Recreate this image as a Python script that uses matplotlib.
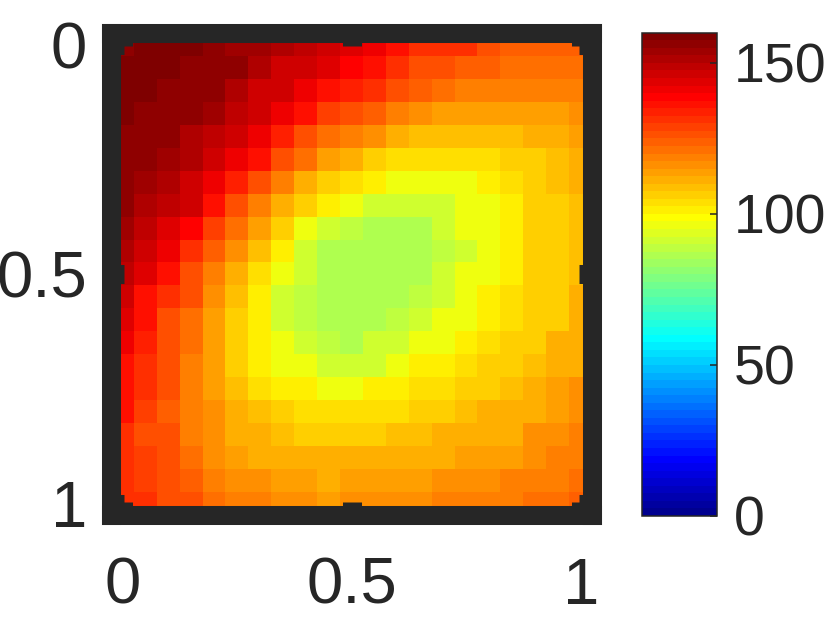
# heatmap on the unit square with a jet colour bar, MATLAB look

import numpy as np
import matplotlib
matplotlib.use('Agg')
import matplotlib.pyplot as plt
from matplotlib.colors import ListedColormap

# grid of values, 21 x 21, row 0 at y = 0 (top)
row00 = [157, 158, 158, 159, 156, 154, 153, 152, 148, 145, 144, 140, 137, 132, 131, 131, 127, 124, 124, 124, 124]
row01 = [159, 159, 160, 157, 155, 155, 152, 147, 145, 143, 139, 137, 131, 127, 125, 123, 123, 120, 120, 120, 120]
row02 = [159, 159, 157, 157, 155, 152, 147, 145, 140, 136, 133, 130, 126, 123, 120, 119, 119, 119, 119, 119, 119]
row03 = [158, 157, 157, 155, 153, 148, 146, 140, 135, 129, 126, 124, 118, 116, 113, 113, 113, 113, 113, 113, 116]
row04 = [157, 157, 155, 152, 148, 146, 140, 134, 126, 120, 119, 117, 110, 108, 108, 108, 108, 108, 110, 110, 113]
row05 = [157, 155, 153, 151, 147, 140, 135, 126, 121, 113, 112, 107, 103, 103, 103, 103, 103, 105, 107, 109, 111]
row06 = [156, 153, 151, 146, 140, 134, 126, 119, 112, 107, 104, 100, 97, 95, 97, 97, 100, 103, 105, 108, 111]
row07 = [156, 150, 148, 145, 135, 126, 119, 112, 106, 100, 95, 91, 91, 91, 92, 95, 97, 100, 105, 105, 108]
row08 = [153, 148, 144, 138, 129, 121, 114, 106, 97, 92, 89, 85, 85, 87, 91, 95, 97, 100, 105, 105, 108]
row09 = [151, 146, 140, 132, 123, 116, 108, 100, 92, 87, 85, 85, 85, 87, 89, 92, 95, 100, 105, 105, 108]
row10 = [148, 143, 135, 127, 119, 112, 104, 95, 90, 85, 85, 85, 85, 87, 90, 95, 97, 100, 105, 107, 108]
row11 = [146, 137, 132, 125, 116, 108, 100, 92, 89, 85, 85, 85, 87, 89, 91, 95, 100, 103, 105, 107, 110]
row12 = [143, 135, 127, 120, 113, 105, 100, 92, 89, 87, 85, 86, 89, 91, 95, 95, 100, 103, 105, 107, 110]
row13 = [140, 134, 127, 120, 113, 105, 100, 95, 92, 89, 87, 90, 90, 95, 97, 100, 103, 105, 107, 110, 111]
row14 = [137, 130, 125, 119, 113, 105, 100, 97, 95, 92, 92, 92, 95, 100, 100, 103, 105, 107, 109, 111, 112]
row15 = [135, 130, 125, 119, 113, 108, 103, 100, 100, 97, 95, 100, 100, 103, 103, 105, 107, 109, 111, 113, 115]
row16 = [135, 129, 123, 119, 115, 110, 108, 105, 103, 103, 103, 103, 103, 105, 105, 108, 110, 110, 112, 114, 115]
row17 = [132, 127, 125, 119, 115, 111, 110, 108, 107, 105, 105, 105, 108, 108, 110, 111, 112, 112, 115, 116, 118]
row18 = [132, 129, 125, 120, 116, 113, 112, 111, 111, 111, 111, 111, 111, 111, 111, 113, 113, 113, 115, 118, 119]
row19 = [132, 129, 125, 123, 119, 116, 115, 113, 113, 112, 113, 113, 113, 113, 116, 116, 116, 118, 118, 119, 121]
row20 = [132, 130, 127, 126, 121, 119, 118, 116, 115, 114, 115, 116, 116, 116, 118, 119, 119, 119, 120, 121, 123]

axis_ticks = [0, 0.5, 1]
axis_ticklabels = ['0', '0.5', '1']
cbar_ticks = [0, 50, 100, 150]
clim = (0, 160)

field = np.array([row00, row01, row02, row03, row04, row05, row06, row07,
                  row08, row09, row10, row11, row12, row13, row14, row15,
                  row16, row17, row18, row19, row20], dtype=float)


def matlab_jet(n=64):
    # same construction as MATLAB's jet(n)
    m = int(np.ceil(n / 4))
    u = np.concatenate([np.arange(1, m + 1) / m, np.ones(m - 1), np.arange(m, 0, -1) / m])
    g = int(np.ceil(m / 2)) - (1 if n % 4 == 1 else 0) + np.arange(1, len(u) + 1)
    J = np.zeros((n, 3))
    for col, idx in ((0, g + m), (1, g), (2, g - m)):
        ok = (idx >= 1) & (idx <= n)
        J[idx[ok] - 1, col] = u[ok]
    return ListedColormap(J)


dark = '#262626'
plt.rcParams['font.family'] = ['Liberation Sans', 'DejaVu Sans']

fig = plt.figure(figsize=(8.3, 6.25), dpi=100)
ax = fig.add_axes([0.1343, 0.176, 0.5795, 0.7706])

# cells centred on 0..1 in steps of 0.05, so the image reaches half a cell past
n = field.shape[0]
half = 0.5 / (n - 1)
im = ax.imshow(field, cmap=matlab_jet(64), vmin=clim[0], vmax=clim[1],
               extent=[-half, 1 + half, 1 + half, -half],
               interpolation='nearest', aspect='auto')

lw = 13.7  # very thick box, as in the original
for sp in ax.spines.values():
    sp.set_linewidth(lw)
    sp.set_color(dark)
    sp.set_capstyle('projecting')

ax.set_xticks(axis_ticks)
ax.set_yticks(axis_ticks)
ax.set_xticklabels(axis_ticklabels)
ax.set_yticklabels(axis_ticklabels)
ax.tick_params(direction='in', length=9.6, width=lw, color=dark,
               top=True, right=True, labelsize=47, labelcolor=dark)
ax.tick_params(axis='x', pad=30)
ax.tick_params(axis='y', pad=17.5)

cax = fig.add_axes([0.7731, 0.1744, 0.0911, 0.7733])
cb = fig.colorbar(im, cax=cax, ticks=cbar_ticks)
cb.outline.set_linewidth(1.1)
cb.outline.set_edgecolor(dark)
cax.tick_params(direction='in', length=5, width=1.1, color=dark,
                labelsize=40, labelcolor=dark, pad=12.2)

fig.savefig('out.png', dpi=100)
